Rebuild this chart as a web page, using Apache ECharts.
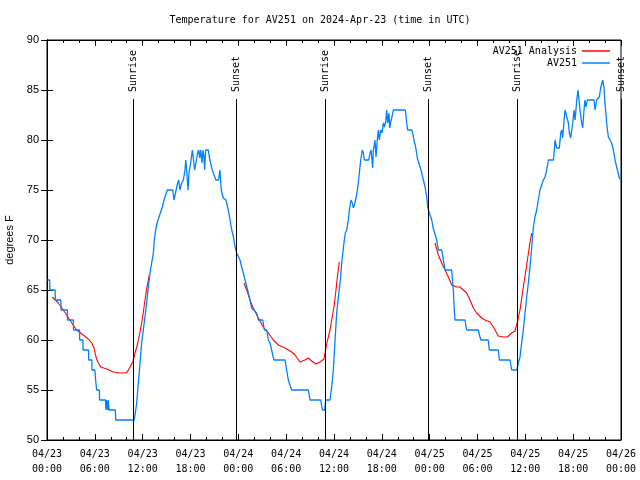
<!DOCTYPE html>
<html><head><meta charset="utf-8">
<script src="https://cdn.jsdelivr.net/npm/echarts@6/dist/echarts.min.js"></script>
<style>html,body{margin:0;padding:0;background:#fff}#c{width:640px;height:480px}</style>
</head><body><div id="c"></div>
<script>
const titleText = 'Temperature for AV251 on 2024-Apr-23 (time in UTC)';
const yAxisName = 'degrees F';
const xTickLabels = ['04/23\n00:00','04/23\n06:00','04/23\n12:00','04/23\n18:00','04/24\n00:00','04/24\n06:00','04/24\n12:00','04/24\n18:00','04/25\n00:00','04/25\n06:00','04/25\n12:00','04/25\n18:00','04/26\n00:00'];
const obsName = 'AV251';
const anaName = 'AV251 Analysis';
// hours since 04/23 00:00 UTC, degrees F
const obsData = [
[0.06,66],[0.34,66],[0.36,65],[1.02,65],[1.04,64],[1.74,64],[1.76,63],[2.55,63],[2.57,62],[3.30,62],[3.32,61],[4.08,61],[4.10,60],[4.50,60],[4.52,59],[5.21,59],[5.23,58],[5.62,58],[5.64,57],[6.00,57],[6.10,56],[6.23,55],[6.57,55],[6.59,54],[7.34,54],[7.40,53],[7.46,54],[7.62,53],[7.68,54],[7.78,53],[8.57,53],[8.62,52],[10.95,52],
[11.04,52],[11.25,53.7],[11.46,55.7],[11.67,57.7],[11.87,59.7],[12.08,61],[12.29,62.3],[12.50,63.7],[12.71,65.3],[12.92,66.7],[13.13,67.7],[13.34,68.7],[13.46,70],[13.63,71],[13.84,71.8],[14.05,72.3],[14.26,72.8],[14.47,73.3],[14.68,74],[14.93,74.2],[15.09,75],
[15.22,75],[15.77,75],[15.93,74],[16.18,74],[16.39,75.7],[16.52,76],[16.68,75],[16.89,75.7],[17.10,76],[17.31,77],[17.40,78],[17.52,77],[17.69,75],[17.81,76.7],[18.02,77.7],[18.23,79],[18.44,79],[18.52,77],[18.77,77],[18.90,78.7],[19.02,79],[19.15,78.2],[19.27,79],[19.44,77.7],[19.56,79],[19.69,78.3],[19.77,77],[19.90,79],[20.24,79],[20.36,78.3],[20.52,77.7],[20.73,77],[20.98,77],[21.19,76],[21.52,76],[21.69,77],[21.86,75],[22.11,74.2],[22.45,74],[22.74,73],[22.96,72],[23.17,71],[23.38,70.3],[23.59,69.3],[23.80,68.7],
[24.21,68],[24.42,67.3],[24.63,66.7],[24.84,66],[25.05,65.8],[25.26,64.7],[25.46,64],[25.67,63.2],[25.80,63],[26.30,62.7],[26.51,62],[27.06,62],[27.26,61],[27.56,61],[27.77,60],[27.97,59.7],[28.18,59],[28.31,58.5],[28.48,58],[29.86,58],[30.06,57],[30.27,56],[30.69,55],[32.78,55],[32.99,54],[34.33,54],[34.54,53],[34.83,53],[34.96,54],[35.50,54],[35.71,55.3],[35.92,57],[36.13,60],[36.34,62.7],[36.55,64.3],
[36.84,66.3],[36.96,67.7],[37.26,69.8],[37.42,70.7],[37.59,71],[37.80,72],[37.93,73],[38.13,74],[38.30,73.7],[38.42,73.2],[38.63,73.7],[38.84,74.5],[39.05,75.7],[39.18,76.7],[39.35,78],[39.55,79],[39.68,78.7],[39.81,78],[40.35,78],[40.52,78.7],[40.64,79],[40.77,78],[40.85,77.2],[40.93,79],[41.06,79.5],[41.14,80],[41.27,78.3],[41.43,80],[41.56,81],[41.69,80],[41.85,81],[42.02,80.7],[42.19,81.7],[42.31,81.3],[42.48,81.8],[42.61,83],[42.73,81.7],[42.90,82.7],[42.98,81.2],[43.11,81.8],[43.27,82.3],[43.44,83],[44.95,83],[45.12,81.7],[45.24,81],[45.74,81],[45.87,80.7],[46.03,80],[46.24,79.3],[46.45,78.2],[46.70,78],[46.91,77],[47.21,76],[47.42,75.3],[47.63,74.3],[47.75,73.3],[47.96,72.7],[48.26,72],[48.44,71.2],[48.67,71],[48.88,70],[49.09,69],[49.51,69],[49.72,68],[49.93,67],[50.76,67],[50.89,65.7],[50.97,65],[51.09,63],[51.18,62],[52.43,62],[52.64,61],[54.10,61],[54.31,60.3],[54.43,60],[55.35,60],[55.48,59],[56.61,59],[56.74,58],[58.08,58],[58.29,57],[58.92,57],
[59.12,57.7],[59.33,58.3],[59.54,59.7],[59.75,61],[59.96,62.7],[60.17,64.3],[60.38,65.7],[60.59,67.3],[60.80,69.3],[61.01,71.3],[61.21,72.3],[61.42,73],[61.63,74],[61.84,75],[62.05,75.2],[62.26,76],[62.47,76.3],[62.68,77],[62.89,78],[63.52,78],[63.64,79],[63.73,80],[63.94,79.2],[64.27,79.2],[64.44,80.7],[64.56,81],[64.69,80.2],[64.86,82],[64.98,83],[65.19,83],[65.40,81.7],[65.52,80.7],[65.69,80.2],[65.82,81],[65.94,81.7],[66.11,83],[66.24,82],[66.45,84],[66.61,85],[66.78,85],[66.86,83],[67.07,81.7],[67.19,81.2],[67.36,83],[67.48,84],[67.61,83.3],[67.78,84],[68.62,84],[68.74,83],[68.95,84],[69.28,84.3],[69.45,85.2],[69.70,86],[69.86,85.3],[69.99,83.7],[70.20,81.7],[70.41,80.3],[70.62,80.2],[70.83,79.7],[71.04,79],[71.25,78],[71.46,77.3],[71.79,76.2],[71.95,76]
];
const anaNight1 = [[0.66,64.3],[1.42,63.7],[2.04,63],[2.47,62.5],[3.10,61.7],[3.73,61],[4.55,60.5],[5.18,60.1],[5.61,59.7],[5.90,59.2],[6.15,58.3],[6.44,57.7],[6.74,57.3],[7.49,57.1],[8.32,56.8],[9.07,56.7],[9.78,56.7],[10.07,56.8],[10.41,57.3],[10.75,57.8],[11.04,58.7],[11.33,59.5],[11.67,60.8],[12.00,62.3],[12.29,64],[12.58,65.5],[12.83,66.5]];
const anaNight2 = [[24.71,65.7],[25.05,65],[25.46,64],[25.88,63.2],[26.51,62.2],[27.13,61.3],[27.76,60.7],[28.39,60],[29.01,59.5],[29.86,59.2],[30.70,58.8],[31.11,58.5],[31.74,57.8],[32.36,58],[32.78,58.2],[33.20,57.9],[33.74,57.6],[34.25,57.8],[34.75,58.1],[35.00,59.3],[35.29,60.3],[35.50,61],[35.71,62],[36.00,63.3],[36.25,65],[36.42,66.3],[36.67,67.8]];
const anaNight3 = [[48.67,69.7],[49.09,68.5],[49.51,67.7],[49.93,67],[50.34,66.3],[50.76,65.5],[51.39,65.3],[51.81,65.3],[52.22,65],[52.65,64.7],[53.06,64],[53.48,63.2],[53.90,62.7],[54.53,62.2],[54.94,62],[55.57,61.8],[56.07,61.2],[56.61,60.4],[57.24,60.3],[57.74,60.3],[58.29,60.7],[58.71,60.9],[59.00,61.8],[59.33,63],[59.75,65.3],[60.17,67.5],[60.59,69.8],[60.80,70.7]];
const sunEventHours = [10.83, 23.75, 34.93, 47.84, 58.90, 71.96];
const sunEventLabels = ['Sunrise','Sunset','Sunrise','Sunset','Sunrise','Sunset'];
const eventLineTop = 84.1;
const eventTextBase = 84.8;

const mono = '"DejaVu Sans Mono", "Liberation Mono", monospace';
const sans = '"Liberation Sans", Arial, sans-serif';

const anaData = anaNight1.concat([[18, null]], anaNight2, [[42, null]], anaNight3);

const tickCommon = {inside: true, length: 6, lineStyle: {color: '#000'}};
const legendCommon = {right: 30, align: 'right', icon: 'rect', itemWidth: 28, itemHeight: 1.5, selectedMode: false, padding: 0,
  textStyle: {fontFamily: mono, fontSize: 10, color: '#000'}};
const chart = echarts.init(document.getElementById('c'), null, {renderer: 'canvas'});
chart.setOption({
  animation: false,
  backgroundColor: '#fff',
  title: {text: titleText, left: 'center', top: 10, textStyle: {fontFamily: mono, fontSize: 10, fontWeight: 'normal', color: '#000'}},
  legend: [
    Object.assign({data: [anaName], top: 46}, legendCommon),
    Object.assign({data: [obsName], top: 58}, legendCommon)
  ],
  grid: {left: 47, right: 19, top: 40, bottom: 40, outerBoundsMode: 'none', containLabel: false, show: true, borderColor: '#000', borderWidth: 1, backgroundColor: 'transparent'},
  xAxis: [
    {type: 'value', min: 0, max: 72, interval: 6, position: 'bottom',
     axisLine: {show: true, lineStyle: {color: '#000'}},
     axisTick: tickCommon,
     minorTick: {show: true, splitNumber: 3, length: 3, lineStyle: {color: '#000'}},
     splitLine: {show: false},
     axisLabel: {formatter: v => xTickLabels[Math.round(v / 6)], fontFamily: mono, fontSize: 10, color: '#000', lineHeight: 15, margin: 7, showMinLabel: true, showMaxLabel: true, hideOverlap: false}},
    {type: 'value', min: 0, max: 72, interval: 6, position: 'top',
     axisLine: {show: true, lineStyle: {color: '#000'}},
     axisTick: tickCommon,
     minorTick: {show: true, splitNumber: 3, length: 3, lineStyle: {color: '#000'}},
     splitLine: {show: false}, axisLabel: {show: false}}
  ],
  yAxis: [
    {type: 'value', min: 50, max: 90, interval: 5, position: 'left',
     name: yAxisName, nameLocation: 'middle', nameGap: 31, nameRotate: 90,
     nameTextStyle: {fontFamily: sans, fontSize: 11, color: '#000'},
     axisLine: {show: true, lineStyle: {color: '#000'}},
     axisTick: Object.assign({show: true}, tickCommon),
     splitLine: {show: false},
     axisLabel: {fontFamily: sans, fontSize: 11, color: '#000', margin: 8}},
    {type: 'value', min: 50, max: 90, interval: 5, position: 'right',
     axisLine: {show: true, lineStyle: {color: '#000'}},
     axisTick: Object.assign({show: true}, tickCommon),
     splitLine: {show: false}, axisLabel: {show: false}}
  ],
  series: [
    {name: anaName, type: 'line', data: anaData, symbol: 'none', connectNulls: false,
     lineStyle: {color: '#ff0000', width: 1.1}, itemStyle: {color: '#ff0000'}},
    {name: obsName, type: 'line', data: obsData, symbol: 'none',
     lineStyle: {color: '#0080ff', width: 1.3}, itemStyle: {color: '#0080ff'}},
    {type: 'custom', clip: false, silent: true, z: 5,
     data: sunEventHours.map(h => [h, 50]),
     encode: {x: 0, y: 1},
     renderItem: function (params, api) {
       const h = api.value(0);
       const p0 = api.coord([h, 50]);
       const p1 = api.coord([h, eventLineTop]);
       const pt = api.coord([h, eventTextBase]);
       const lx = Math.round(p0[0]) + 0.5;
       return {type: 'group', children: [
         {type: 'line', shape: {x1: lx, y1: p0[1], x2: lx, y2: p1[1]}, style: {stroke: '#000', lineWidth: 1}},
         {type: 'text', x: lx, y: pt[1], rotation: Math.PI / 2,
          style: {text: sunEventLabels[params.dataIndex], fill: '#000', font: '10px ' + mono, align: 'left', verticalAlign: 'middle'}}
       ]};
     }}
  ]
});
</script>
</body></html>
